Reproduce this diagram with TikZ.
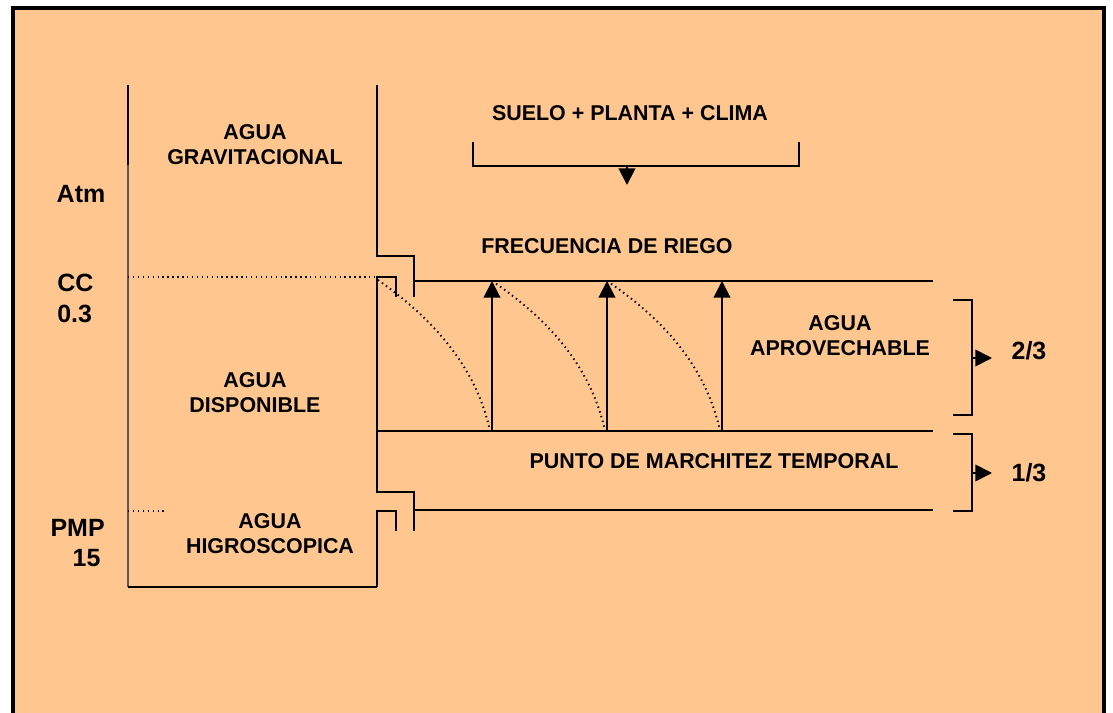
\documentclass[tikz,border=0pt]{standalone}
\usepackage{fontspec}
\setmainfont{Liberation Sans}
\usetikzlibrary{arrows.meta}
\definecolor{fondo}{RGB}{255,199,143}

\begin{document}
\begin{tikzpicture}[x=0.02cm,y=-0.02cm,
	txt/.style={font=\fontsize{12.2}{14.2}\selectfont\bfseries,align=center,inner sep=0pt},
	grande/.style={font=\fontsize{14.2}{17.6}\selectfont\bfseries,inner sep=0pt},
	linea/.style={line width=1.2pt},
	punteado/.style={line width=1.1pt,dash pattern=on 0.8pt off 2pt},
	flecha/.style={linea,-{Triangle[length=9.5pt,width=9.5pt]}}]
	\useasboundingbox (0,0) rectangle (1113,713);
	\fill[white] (0,0) rectangle (1113,713);
	\draw[line width=1.8pt,fill=fondo] (13,8) -- (1104,8) -- (1104,730) -- (13,730) -- cycle;
	% columna de la izquierda
	\coordinate (a0) at (128,85);
	\coordinate (a1) at (128,165);
	\coordinate (a2) at (128,587);
	\coordinate (b0) at (377,85);
	\coordinate (b1) at (377,256);
	\coordinate (b2) at (414,256);
	\coordinate (b3) at (414,297);
	\coordinate (c0) at (377,277);
	\coordinate (c1) at (396,277);
	\coordinate (c2) at (396,297);
	\coordinate (d1) at (377,492);
	\coordinate (d2) at (414,492);
	\coordinate (d3) at (414,531);
	\coordinate (e0) at (377,511);
	\coordinate (e1) at (396,511);
	\coordinate (e2) at (396,531);
	\coordinate (e3) at (377,587);
	\draw[linea] (a0) -- (a1);
	\draw[gray!70!black,line width=0.6pt] (a1) -- (a2);
	\draw[linea] (a2) -- (e3);
	\draw[linea] (b0) -- (b1) -- (b2) -- (b3);
	\draw[linea] (c2) -- (c1) -- (c0) -- (d1) -- (d2) -- (d3);
	\draw[linea] (e2) -- (e1) -- (e0) -- (e3);
	\draw[punteado] (128,277) -- (c0);
	\draw[punteado] (128,511) -- (165,511);
	% niveles
	\coordinate (h0) at (414,281);
	\coordinate (h1) at (933,281);
	\coordinate (m0) at (377,431);
	\coordinate (m1) at (933,431);
	\coordinate (p0) at (414,510);
	\coordinate (p1) at (933,510);
	\draw[linea] (h0) -- (h1);
	\draw[linea] (m0) -- (m1);
	\draw[linea] (p0) -- (p1);
	% riegos
	\foreach \i/\x in {1/492,2/607,3/722}{
		\coordinate (r\i) at (\x,431);
		\coordinate (s\i) at (\x,281);
		\draw[flecha] (r\i) -- (s\i);
	}
	\draw[punteado] (378,280) .. controls (432,318) and (476,366) .. (490,431);
	\draw[punteado] (s1) .. controls (547,318) and (591,366) .. (605,431);
	\draw[punteado] (s2) .. controls (662,318) and (706,366) .. (720,431);
	% llave de arriba
	\coordinate (k0) at (473,142);
	\coordinate (k1) at (473,166);
	\coordinate (k2) at (799,166);
	\coordinate (k3) at (799,142);
	\coordinate (k4) at (627,166);
	\coordinate (k5) at (627,185);
	\draw[linea] (k0) -- (k1) -- (k2) -- (k3);
	\draw[flecha] (k4) -- (k5);
	% llaves de la derecha
	\coordinate (l0) at (953,300);
	\coordinate (l1) at (972,300);
	\coordinate (l2) at (972,415);
	\coordinate (l3) at (953,415);
	\coordinate (l4) at (972,358);
	\coordinate (l5) at (992,358);
	\coordinate (n0) at (953,434);
	\coordinate (n1) at (972,434);
	\coordinate (n2) at (972,511);
	\coordinate (n3) at (953,511);
	\coordinate (n4) at (972,473);
	\coordinate (n5) at (992,473);
	\draw[line width=1pt] (l0) -- (l1) -- (l2) -- (l3);
	\draw[line width=1pt] (n0) -- (n1) -- (n2) -- (n3);
	\draw[flecha,line width=1pt] (l4) -- (l5);
	\draw[flecha,line width=1pt] (n4) -- (n5);
	% textos
	\node[txt] (grav) at (255,145) {AGUA\\GRAVITACIONAL};
	\node[txt] (disp) at (255,393) {AGUA\\DISPONIBLE};
	\node[txt] (higr) at (270,534) {AGUA\\HIGROSCOPICA};
	\node[grande] (atm) at (81,194) {Atm};
	\node[grande,align=left,anchor=west] (cc) at (57,298) {CC\\0.3};
	\node[grande,align=right,anchor=east] (pmp) at (105,543) {PMP\\15\,};
	\node[txt] (spc) at (630,113) {SUELO + PLANTA + CLIMA};
	\node[txt] (frec) at (607,246) {FRECUENCIA DE RIEGO};
	\node[txt] (aprov) at (840,336) {AGUA\\APROVECHABLE};
	\node[txt] (pmt) at (714,461) {PUNTO DE MARCHITEZ TEMPORAL};
	\node[grande] (dos) at (1029,351) {2/3};
	\node[grande] (uno) at (1029,473) {1/3};
\end{tikzpicture}
\end{document}
